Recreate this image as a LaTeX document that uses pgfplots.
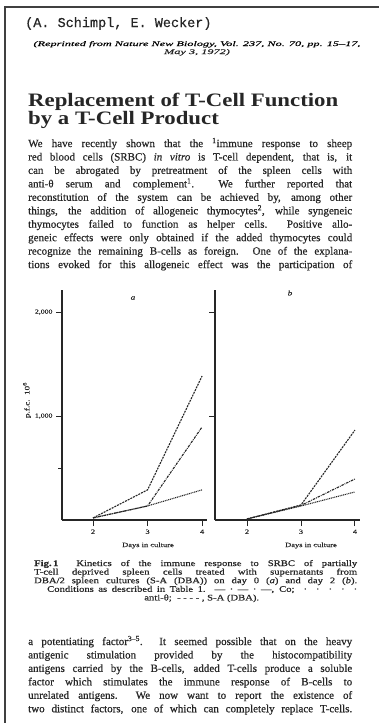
\documentclass[border=0pt]{standalone}
\usepackage{fontspec}
\usepackage{graphicx}
\setmainfont{Liberation Serif}
\newfontfamily\bodyf{Liberation Serif}[FakeBold=0.5]
\newfontfamily\titlef{Liberation Serif}[FakeStretch=1.2]
\newfontfamily\monof{Liberation Mono}[FakeBold=0.4]
\newfontfamily\capf{Liberation Serif}[FakeStretch=1.25, FakeBold=0.6]
\newfontfamily\smallf{Liberation Serif}[FakeStretch=1.3, FakeBold=0.3]
\newfontfamily\repf{Liberation Serif}[FakeBold=0.3]
\usepackage{pgfplots}
\pgfplotsset{compat=1.18}
\definecolor{ink}{gray}{0.15}
\newcommand{\Lb}[1]{\makebox[324pt][s]{#1}}
\newcommand{\Lc}[1]{\makebox[323pt][s]{#1}}
\newsavebox\repbox
\pgfplotsset{panel/.style={
  scale only axis, width=145pt, height=230pt, anchor=south west,
  axis x line=bottom, axis y line=left,
  axis line style={-, line width=1.2pt, color=ink},
  ymin=0, ymax=2212, xtick={2,3,4}, xticklabels={2,3,4}, ytick={1000,2000},
  tick align=outside, major tick length=6pt, minor tick length=4pt,
  tick style={line width=1pt, color=ink},
  xticklabel style={font=\smallf\fontsize{6.5}{7}\selectfont, text=ink},
  yticklabel style={font=\smallf\fontsize{6}{7}\selectfont, text=ink},
  clip=false,
  every axis plot/.append style={line width=1.1pt, color=ink, mark=none},
}}
\begin{document}
\sbox\repbox{\repf\itshape\fontsize{7}{7}\selectfont (Reprinted from Nature New Biology, Vol. 237, No. 70, pp. 15–17,}%
\pgfmathsetmacro\rs{327/\wd\repbox}%
\begin{tikzpicture}[x=1pt,y=1pt]
\useasboundingbox (0pt,0pt) rectangle (379pt,-723pt);
\fill[white] (0pt,0pt) rectangle (379pt,-723pt);
\draw[line width=1.6pt, black!75] (5pt,-723pt) -- (5pt,-7pt) -- (379pt,-7pt);
% header
\node[anchor=base west, inner sep=0pt, text=ink, font=\monof\fontsize{13.5}{14}\selectfont] at (25pt,-27pt) {(A. Schimpl, E. Wecker)};
\node[anchor=base, inner sep=0pt, text=ink] at (197pt,-46pt) {\scalebox{\rs}[1]{\usebox\repbox}};
\node[anchor=base, inner sep=0pt, text=ink] at (197pt,-54pt) {\scalebox{\rs}[1]{\repf\itshape\fontsize{7}{7}\selectfont May 3, 1972)}};
% title
\node[anchor=base west, inner sep=0pt, text=ink, font=\titlef\bfseries\fontsize{19}{19}\selectfont] at (28pt,-106pt) {Replacement of T-Cell Function};
\node[anchor=base west, inner sep=0pt, text=ink, font=\titlef\bfseries\fontsize{19}{19}\selectfont] at (28pt,-124pt) {by a T-Cell Product};
% upper paragraph
\node[anchor=base west, inner sep=0pt, text=ink] at (28pt,-147pt) {\parbox[t]{324pt}{\bodyf\fontsize{11}{13.45}\selectfont
\Lb{We have recently shown that the \textsuperscript{1}immune response to sheep}\\
\Lb{red blood cells (SRBC) \textit{in vitro} is T-cell dependent, that is, it}\\
\Lb{can be abrogated by pretreatment of the spleen cells with}\\
\Lb{anti-θ serum and complement\textsuperscript{1}.\ \ We further reported that}\\
\Lb{reconstitution of the system can be achieved by, among other}\\
\Lb{things, the addition of allogeneic thymocytes\textsuperscript{2}, while syngeneic}\\
\Lb{thymocytes failed to function as helper cells.\ \ Positive allo-}\\
\Lb{geneic effects were only obtained if the added thymocytes could}\\
\Lb{recognize the remaining B-cells as foreign.\ \ One of the explana-}\\
\Lb{tions evoked for this allogeneic effect was the participation of}}};
% panel a
\begin{axis}[panel, at={(62pt,-520pt)}, xmin=1.431, xmax=4.09,
  minor ytick={500}, yticklabels={{1,000},{2,000}}]
\addplot[dash pattern=on 2pt off 1pt] coordinates {(2,20) (3,290) (4,1385)};
\addplot[dash pattern=on 2.5pt off 1pt on 0.8pt off 1pt] coordinates {(2,20) (3,135) (4,895)};
\addplot[dash pattern=on 1pt off 0.8pt] coordinates {(2,20) (3,135) (4,290)};
\end{axis}
% panel b
\begin{axis}[panel, at={(215pt,-520pt)}, xmin=1.407, xmax=4.093, yticklabels={}]
\addplot[dash pattern=on 2pt off 1pt] coordinates {(2,10) (3,145) (4,865)};
\addplot[dash pattern=on 2.5pt off 1pt on 0.8pt off 1pt] coordinates {(2,10) (3,140) (4,395)};
\addplot[dash pattern=on 1pt off 0.8pt] coordinates {(2,10) (3,135) (4,270)};
\end{axis}
% panel labels and axis labels
\node[text=ink, inner sep=0pt, font=\smallf\itshape\fontsize{7}{7}\selectfont] at (133pt,-298pt) {a};
\node[text=ink, inner sep=0pt, font=\smallf\itshape\fontsize{7}{7}\selectfont] at (290pt,-293pt) {b};
\node[text=ink, inner sep=0pt, rotate=90, font=\smallf\fontsize{7}{7}\selectfont] at (27pt,-400pt) {p.f.c.\ \ 10\textsuperscript{6}};
\node[anchor=base, text=ink, inner sep=0pt, font=\smallf\fontsize{6.5}{7}\selectfont] at (148pt,-547pt) {Days in culture};
\node[anchor=base, text=ink, inner sep=0pt, font=\smallf\fontsize{6.5}{7}\selectfont] at (311pt,-547pt) {Days in culture};
% caption
\node[anchor=base west, inner sep=0pt, text=ink] at (34pt,-566pt) {\parbox[t]{323pt}{\capf\fontsize{8.5}{8.6}\selectfont
\Lc{\mbox{\textbf{Fig.\,1}}\ \ Kinetics of the immune response to SRBC of partially}\\
\Lc{T-cell deprived spleen cells treated with supernatants from}\\
\Lc{DBA/2 spleen cultures (S-A (DBA)) on day 0 (\textit{a}) and day 2 (\textit{b}).}\\
\hspace*{13pt}\makebox[310pt][s]{Conditions as described in Table 1.\ \ —\ ·\ —\ ·\ —, Co;\ \ ·\ \ ·\ \ ·\ \ ·\ \ ·}\\
\makebox[323pt][c]{\hspace{12pt}anti-θ;\ \ -\ -\ -\ -\ , S-A (DBA).}}};
% lower paragraph
\node[anchor=base west, inner sep=0pt, text=ink] at (28pt,-645pt) {\parbox[t]{324pt}{\bodyf\fontsize{11}{13.45}\selectfont
\Lb{a potentiating factor\textsuperscript{3–5}.\ \ It seemed possible that on the heavy}\\
\Lb{antigenic stimulation provided by the histocompatibility}\\
\Lb{antigens carried by the B-cells, added T-cells produce a soluble}\\
\Lb{factor which stimulates the immune response of B-cells to}\\
\Lb{unrelated antigens.\ \ We now want to report the existence of}\\
\Lb{two distinct factors, one of which can completely replace T-cells.}}};
\end{tikzpicture}
\end{document}
